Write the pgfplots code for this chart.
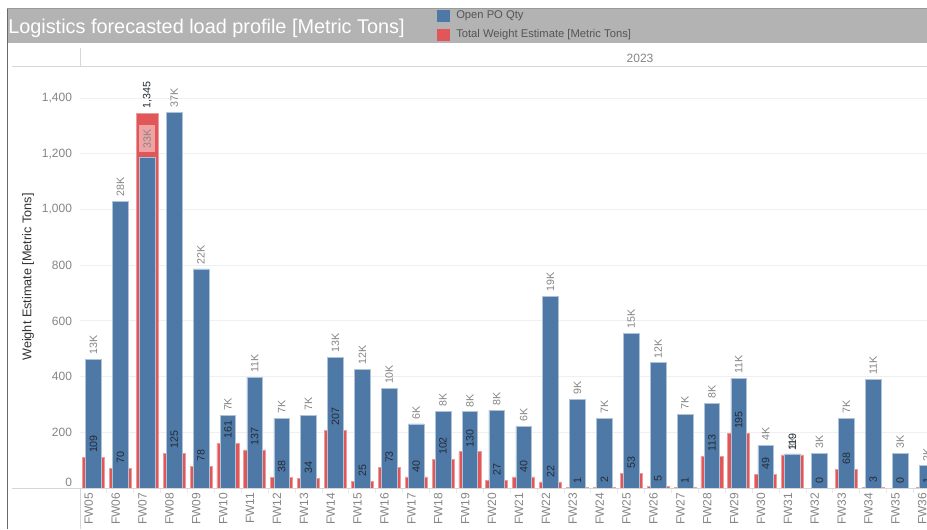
\documentclass[border=0pt]{standalone}
\usepackage{pgfplots}
\pgfplotsset{compat=1.18}
\usepackage{pgfplotstable}
\usepackage{fontspec}
\setmainfont{Liberation Sans}
\definecolor{tblue}{HTML}{4E79A7}
\definecolor{tred}{HTML}{E15759}
\definecolor{band}{HTML}{B3B3B3}
\definecolor{bandline}{HTML}{9A9A9A}
\definecolor{leftborder}{HTML}{6A6A6A}
\definecolor{pinkbg}{HTML}{F0A3A3}
\definecolor{gridc}{HTML}{EFEFEF}
\definecolor{sepline}{HTML}{D6D6D6}
\definecolor{minsep}{HTML}{E8E8E8}
\definecolor{ticktext}{HTML}{858585}
\definecolor{ylab}{HTML}{333333}
\definecolor{legtext}{HTML}{555555}
\definecolor{bluelab}{HTML}{858585}
\definecolor{redlab}{HTML}{222A35}

\pgfplotstableread{
x wk red po
0 FW05 109 12.77
1 FW06 70 28.4
2 FW07 1345 32.8
3 FW08 125 37.2
4 FW09 78 21.7
5 FW10 161 7.16
6 FW11 137 10.99
7 FW12 38 6.93
8 FW13 34 7.23
9 FW14 207 12.94
10 FW15 25 11.78
11 FW16 73 9.83
12 FW17 40 6.34
13 FW18 102 7.59
14 FW19 130 7.55
15 FW20 27 7.69
16 FW21 40 6.11
17 FW22 22 18.98
18 FW23 1 8.81
19 FW24 2 6.90
20 FW25 53 15.35
21 FW26 5 12.4
22 FW27 1 7.33
23 FW28 113 8.39
24 FW29 195 10.89
25 FW30 49 4.19
26 FW31 119 3.37
27 FW32 0 3.44
28 FW33 68 6.93
29 FW34 3 10.76
30 FW35 0 3.44
31 FW36 1 2.2
}\data

\pgfplotsset{
  /pgf/number format/assume math mode=true,
  /pgf/number format/1000 sep={,},
  base/.style={
    at={(60pt,30.75pt)}, anchor=south west, scale only axis,
    width=635.25pt, height=315.75pt,
    xmin=-0.5, xmax=31,
    axis line style={draw=none},
    major tick length=0pt, minor tick length=0pt,
  }
}

\begin{document}
\begin{tikzpicture}
\useasboundingbox (0,0) rectangle (695.25pt,396.75pt);
\clip (0,0) rectangle (695.25pt,396.75pt);
\fill[white] (0,0) rectangle (695.25pt,396.75pt);
% header band
\fill[band] (5.25pt,364.5pt) rectangle (695.25pt,390pt);
\draw[line width=0.75pt, bandline] (5.25pt,390pt) -- (695.25pt,390pt);
\node[anchor=base west, inner sep=0pt, text=white, font=\fontsize{14.9}{16}\selectfont] at (6pt,371.25pt) {Logistics forecasted load profile [Metric Tons]};
% legend
\fill[tblue] (327.75pt,380.25pt) rectangle (337.5pt,389.25pt);
\fill[tred] (327.75pt,365.75pt) rectangle (337.5pt,375pt);
\node[anchor=west, inner sep=0pt, text=legtext, font=\fontsize{8.4}{10}\selectfont] at (342pt,384.75pt) {Open PO Qty};
\node[anchor=west, inner sep=0pt, text=legtext, font=\fontsize{8.4}{10}\selectfont] at (342pt,370.5pt) {Total Weight Estimate [Metric Tons]};
% header row
\node[text=ticktext, font=\fontsize{9}{11}\selectfont] at (480pt,353.25pt) {2023};
\draw[line width=0.75pt, sepline] (60pt,360.75pt) -- (60pt,346.5pt);
\draw[line width=0.75pt, sepline] (9pt,346.5pt) -- (695.25pt,346.5pt);
% left border
\draw[line width=0.75pt, leftborder] (5.25pt,390pt) -- (5.25pt,0pt);
% y label
\node[rotate=90, text=ylab, font=\fontsize{9.5}{11}\selectfont] at (21pt,189pt) {Weight Estimate [Metric Tons]};

% primary axis: red bars, ticks, grid
\begin{axis}[base,
  ymin=0, ymax=1511.7,
  ytick={200,400,...,1400},
  extra y ticks={0},
  extra y tick style={yticklabel style={yshift=4pt}},
  ymajorgrids, grid style={gridc, line width=0.75pt},
  yticklabel style={font=\fontsize{9}{11}\selectfont, text=ticktext, xshift=-2.5pt},
  xtick={0,...,31},
  xticklabels from table={\data}{wk},
  xticklabel style={xshift=-3.5pt, rotate=90, anchor=east, font=\fontsize{9}{11}\selectfont, text=ticktext},
  minor xtick={0.5,1.5,...,30.5},
  xtick pos=bottom, tick align=outside,
  minor x tick style={draw=minsep, line width=0.75pt},
  minor tick length=3.75pt,
]
\addplot[ybar, bar width=16.5pt, fill=tred, draw=tred!60!white, line width=0.5pt] table[x=x, y=red] {\data};
\end{axis}

% secondary axis: blue bars (Open PO Qty, thousands)
\begin{axis}[base,
  ymin=0, ymax=41.7,
  xtick=\empty, ytick=\empty,
]
\addplot[ybar, bar width=11.75pt, fill=tblue, draw=tblue!45!white, line width=0.5pt,
  point meta=y,
  visualization depends on={\thisrow{x}\as\xc},
  nodes near coords={\ifdim\xc pt=2pt\relax{\setlength{\fboxsep}{3pt}\colorbox{pinkbg}{\pgfmathprintnumber[fixed,precision=0]{\pgfplotspointmeta}K}}\else\pgfmathprintnumber[fixed,precision=0]{\pgfplotspointmeta}K\fi},
  every node near coord/.append style={rotate=90, anchor=west, text=bluelab, font=\fontsize{8}{9}\selectfont},
] table[x=x, y=po] {\data};
\end{axis}

% red value labels on top
\begin{axis}[base,
  ymin=0, ymax=1511.7,
  xtick=\empty, ytick=\empty,
]
\addplot[draw=none, mark=none, point meta=y,
  nodes near coords,
  every node near coord/.append style={rotate=90, anchor=west, text=redlab, font=\fontsize{8}{9}\selectfont},
] table[x=x, y=red] {\data};
\end{axis}

% baseline and lower separator
\draw[line width=0.75pt, sepline] (9pt,30.75pt) -- (695.25pt,30.75pt);
\draw[line width=0.75pt, sepline] (60pt,30.75pt) -- (60pt,0pt);
\end{tikzpicture}
\end{document}
